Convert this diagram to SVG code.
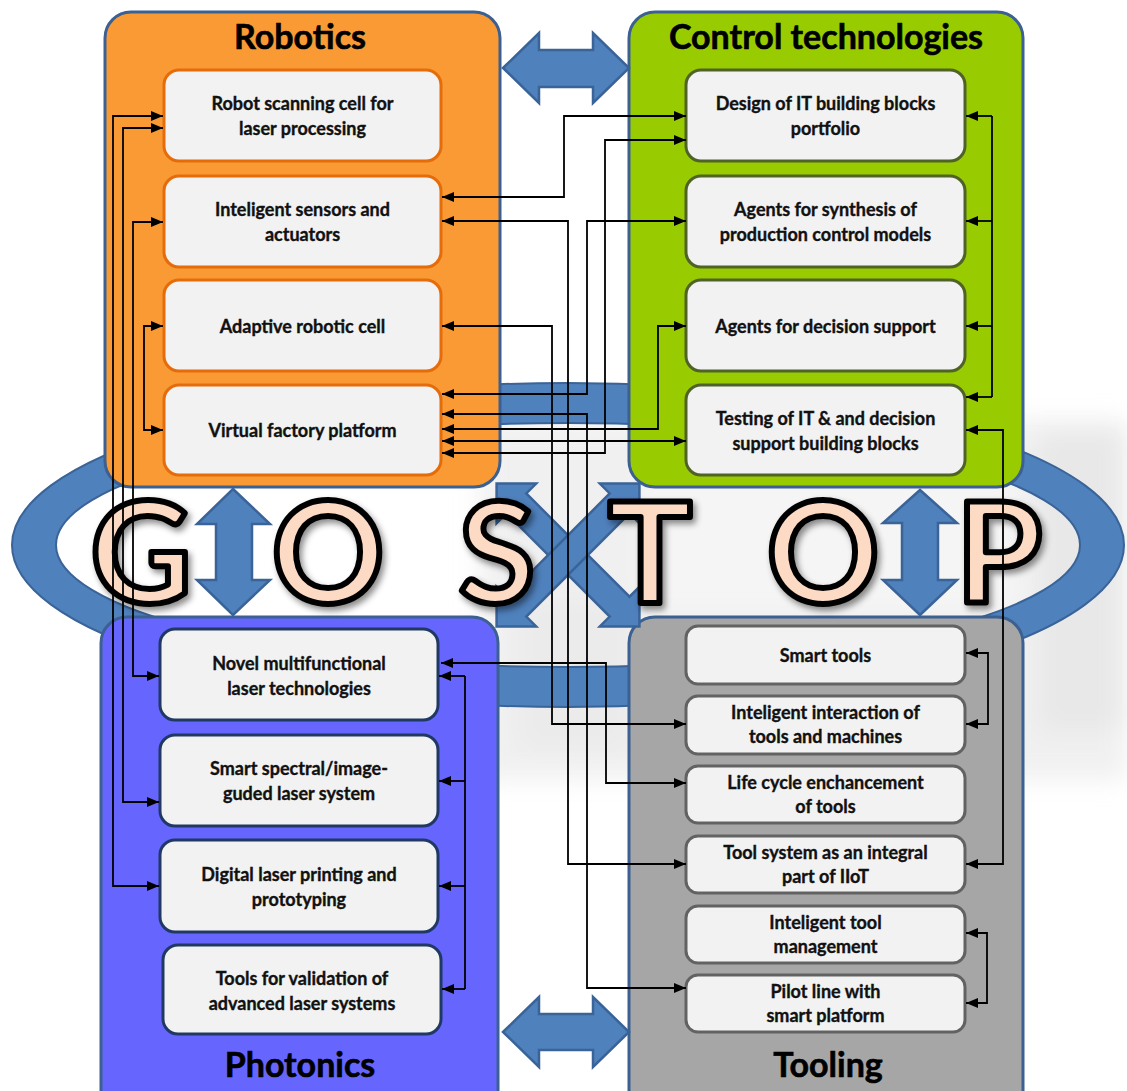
<svg xmlns="http://www.w3.org/2000/svg" width="1127" height="1091" viewBox="0 0 1127 1091">
<defs>
<style>
.panel{stroke:#3B6091;stroke-width:3}
.box{fill:#F2F2F2;stroke-width:3}
.rb{stroke:#E46C0A}
.cb{stroke:#4F6228}
.pb{stroke:#1F3864}
.tb{stroke:#626262}
.t{font-family:Lato,"Liberation Sans",sans-serif;font-weight:bold;font-size:18px;text-anchor:middle;fill:#111;stroke:#111;stroke-width:0.35}
.h{font-family:Lato,"Liberation Sans",sans-serif;font-weight:bold;font-size:34px;text-anchor:middle;fill:#000;stroke:#000;stroke-width:0.6}
.blk{fill:#4F81BD;stroke:#3A6398;stroke-width:2.5;stroke-linejoin:miter}
.big{font-family:Lato,"Open Sans",sans-serif;font-weight:bold;font-size:140px;text-anchor:middle;fill:#FDDAC4;stroke:#000;stroke-width:6;stroke-linejoin:round}
.c{fill:none;stroke:#000;stroke-width:1.8}
.ca{fill:none;stroke:#000;stroke-width:1.8;marker-start:url(#ah);marker-end:url(#ah)}
.ce{fill:none;stroke:#000;stroke-width:1.8;marker-end:url(#ah)}
</style>
<marker id="ah" markerUnits="userSpaceOnUse" markerWidth="12" markerHeight="10" refX="12" refY="5" orient="auto-start-reverse">
<path d="M0,0 L12,5 L0,10 Z" fill="#000"/>
</marker>
<filter id="blur" x="-20%" y="-20%" width="140%" height="140%"><feGaussianBlur stdDeviation="12"/></filter>
<filter id="sh" x="-20%" y="-20%" width="140%" height="140%"><feDropShadow dx="3" dy="4" stdDeviation="3" flood-color="#000" flood-opacity="0.45"/></filter>
</defs>
<rect width="1127" height="1091" fill="#FFFFFF"/>
<g id="background-photo" filter="url(#blur)" opacity="0.5">
<rect x="480" y="420" width="647" height="360" fill="#E2E2E2"/>
<rect x="1040" y="430" width="87" height="300" fill="#D2D2D2"/>
<rect x="520" y="600" width="110" height="150" fill="#D8D8D8"/>
<rect x="640" y="470" width="380" height="140" fill="#EDEDED"/>
</g>
<g id="ring">
<path d="M12,545 A556,162 0 1 0 1124,545 A556,162 0 1 0 12,545 Z M56,545 A512,122 0 1 1 1080,545 A512,122 0 1 1 56,545 Z" fill="#4F81BD" fill-rule="evenodd" stroke="#3A6398" stroke-width="2"/>
</g>
<g id="panel-robotics">
<rect class="panel" x="105" y="12" width="395" height="475" rx="26" fill="#FA9A35"/>
<text class="h" x="300" y="49">Robotics</text>
</g>
<g id="panel-control">
<rect class="panel" x="629" y="12" width="394" height="475" rx="26" fill="#99CC00"/>
<text class="h" x="826" y="49">Control technologies</text>
</g>
<g id="panel-photonics">
<rect class="panel" x="101" y="617" width="397" height="500" rx="26" fill="#6666FF"/>
<text class="h" x="300" y="1077">Photonics</text>
</g>
<g id="panel-tooling">
<rect class="panel" x="629" y="617" width="394" height="500" rx="26" fill="#A6A6A6"/>
<text class="h" x="828" y="1077">Tooling</text>
</g>
<g id="r1"><rect class="box rb" x="164" y="70" width="277" height="91" rx="15"/><text class="t" x="302.5" y="110">Robot scanning cell for</text><text class="t" x="302.5" y="135">laser processing</text></g>
<g id="r2"><rect class="box rb" x="164" y="176" width="277" height="91" rx="15"/><text class="t" x="302.5" y="216">Inteligent sensors and</text><text class="t" x="302.5" y="241">actuators</text></g>
<g id="r3"><rect class="box rb" x="164" y="280" width="277" height="91" rx="15"/><text class="t" x="302.5" y="333">Adaptive robotic cell</text></g>
<g id="r4"><rect class="box rb" x="164" y="385" width="277" height="90" rx="15"/><text class="t" x="302.5" y="437">Virtual factory platform</text></g>
<g id="c1"><rect class="box cb" x="686" y="70" width="279" height="91" rx="15"/><text class="t" x="825.5" y="110">Design of IT building blocks</text><text class="t" x="825.5" y="135">portfolio</text></g>
<g id="c2"><rect class="box cb" x="686" y="176" width="279" height="91" rx="15"/><text class="t" x="825.5" y="216">Agents for synthesis of</text><text class="t" x="825.5" y="241">production control models</text></g>
<g id="c3"><rect class="box cb" x="686" y="280" width="279" height="91" rx="15"/><text class="t" x="825.5" y="333">Agents for decision support</text></g>
<g id="c4"><rect class="box cb" x="686" y="385" width="279" height="90" rx="15"/><text class="t" x="825.5" y="425">Testing of IT &amp; and decision</text><text class="t" x="825.5" y="450">support building blocks</text></g>
<g id="p1"><rect class="box pb" x="160" y="629" width="278" height="91" rx="15"/><text class="t" x="299" y="670">Novel multifunctional</text><text class="t" x="299" y="695">laser technologies</text></g>
<g id="p2"><rect class="box pb" x="160" y="735" width="278" height="91" rx="15"/><text class="t" x="299" y="775">Smart spectral/image-</text><text class="t" x="299" y="800">guded laser system</text></g>
<g id="p3"><rect class="box pb" x="160" y="840" width="278" height="92" rx="15"/><text class="t" x="299" y="881">Digital laser printing and</text><text class="t" x="299" y="906">prototyping</text></g>
<g id="p4"><rect class="box pb" x="163" y="945" width="278" height="89" rx="15"/><text class="t" x="302" y="985">Tools for validation of</text><text class="t" x="302" y="1010">advanced laser systems</text></g>
<g id="t1"><rect class="box tb" x="686" y="626" width="279" height="58" rx="12"/><text class="t" x="825.5" y="662">Smart tools</text></g>
<g id="t2"><rect class="box tb" x="686" y="696" width="279" height="58" rx="12"/><text class="t" x="825.5" y="719">Inteligent interaction of</text><text class="t" x="825.5" y="743">tools and machines</text></g>
<g id="t3"><rect class="box tb" x="686" y="766" width="279" height="57" rx="12"/><text class="t" x="825.5" y="789">Life cycle enchancement</text><text class="t" x="825.5" y="813">of tools</text></g>
<g id="t4"><rect class="box tb" x="686" y="836" width="279" height="57" rx="12"/><text class="t" x="825.5" y="859">Tool system as an integral</text><text class="t" x="825.5" y="883">part of IIoT</text></g>
<g id="t5"><rect class="box tb" x="686" y="906" width="279" height="57" rx="12"/><text class="t" x="825.5" y="929">Inteligent tool</text><text class="t" x="825.5" y="953">management</text></g>
<g id="t6"><rect class="box tb" x="686" y="975" width="279" height="57" rx="12"/><text class="t" x="825.5" y="998">Pilot line with</text><text class="t" x="825.5" y="1022">smart platform</text></g>
<g id="block-arrows">
<polygon class="blk" points="503,68 539,33 539,50 593,50 593,33 629,68 593,103 593,87 539,87 539,103"/>
<polygon class="blk" points="503,1032 539,997 539,1014 593,1014 593,997 629,1032 593,1067 593,1050 539,1050 539,1067"/>
<polygon class="blk" points="233,489 270,524 252,524 252,580 270,580 233,615 197,580 216,580 216,524 197,524"/>
<polygon class="blk" points="920,490 957,523 938,523 938,580 957,580 920,615 883,580 902,580 902,523 883,523"/>
<g transform="translate(568,555) rotate(45)"><polygon class="blk" points="-101,0 -73,-28 -73,-14 73,-14 73,-28 101,0 73,28 73,14 -73,14 -73,28"/></g>
<g transform="translate(568,555) rotate(-45)"><polygon class="blk" points="-101,0 -73,-28 -73,-14 73,-14 73,-28 101,0 73,28 73,14 -73,14 -73,28"/></g>
</g>
<g id="gostop" filter="url(#sh)">
<text class="big" x="141" y="603">G</text>
<text class="big" x="328" y="603">O</text>
<text class="big" x="497" y="603">S</text>
<text class="big" x="650" y="603">T</text>
<text class="big" x="823" y="603">O</text>
<text class="big" x="999" y="603">P</text>
</g>
<g id="connectors">
<polyline class="ca" points="163,116 113,116 113,886 159,886"/>
<polyline class="ca" points="163,128 123,128 123,802 159,802"/>
<polyline class="ca" points="163,222 133,222 133,676 159,676"/>
<polyline class="ca" points="163,326 144,326 144,430 163,430"/>
<polyline class="ca" points="442,197 564,197 564,116 686,116"/>
<polyline class="ca" points="686,140 605,140 605,453 442,453"/>
<polyline class="ca" points="442,221 568,221 568,864 686,864"/>
<polyline class="ca" points="686,221 587,221 587,394 442,394"/>
<polyline class="ca" points="442,326 552,326 552,724 686,724"/>
<polyline class="ca" points="442,414 587,414 587,988 686,988"/>
<polyline class="ca" points="442,429 658,429 658,326 686,326"/>
<polyline class="ca" points="442,441 686,441"/>
<polyline class="ca" points="441,663 606,663 606,783 686,783"/>
<polyline class="c" points="992,116 992,397"/>
<polyline class="ce" points="992,116 966,116"/>
<polyline class="ce" points="992,221 966,221"/>
<polyline class="ce" points="992,326 966,326"/>
<polyline class="ce" points="992,397 966,397"/>
<polyline class="ca" points="966,430 1003,430 1003,864 966,864"/>
<polyline class="ca" points="966,653 988,653 988,724 966,724"/>
<polyline class="ca" points="966,933 987,933 987,1003 966,1003"/>
<polyline class="c" points="465,676 465,989"/>
<polyline class="ce" points="465,676 439,676"/>
<polyline class="ce" points="465,781 439,781"/>
<polyline class="ce" points="465,886 439,886"/>
<polyline class="ce" points="465,989 442,989"/>
</g>
</svg>
